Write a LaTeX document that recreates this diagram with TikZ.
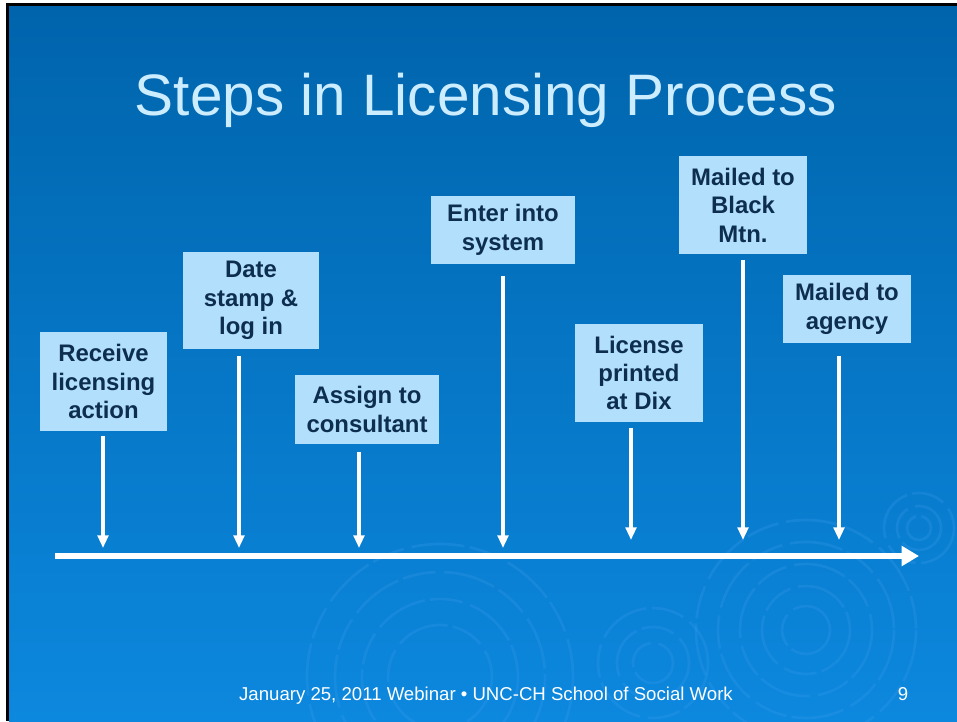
\documentclass[tikz,border=0pt]{standalone}
\usepackage{fontspec}
\setmainfont{Liberation Sans}
\usetikzlibrary{arrows.meta,calc}
\definecolor{bgtop}{RGB}{0,100,172}
\definecolor{bgbot}{RGB}{12,136,222}
\definecolor{boxfill}{RGB}{178,224,252}
\definecolor{boxtext}{RGB}{14,46,80}
\definecolor{titlecol}{RGB}{204,236,255}
\definecolor{ripplecol}{RGB}{70,160,240}
\def\upx{0.7524pt}
\begin{document}
\begin{tikzpicture}[x=0.7524pt,y=-0.7524pt,
  stepbox/.style={fill=boxfill, text=boxtext, font=\fontsize{18}{21.4}\selectfont\bfseries, align=center, inner sep=0pt},
  varrow/.style={draw=white, line width=2.3pt, -{Triangle[length=9.5pt,width=8pt]}},
  timeline/.style={draw=white, line width=4.5pt, -{Triangle[length=13pt,width=14.5pt]}},
  ring/.style={draw=ripplecol, opacity=0.22, line width=2pt, dash pattern=on 40pt off 4pt on 25pt off 6pt}]
\useasboundingbox (0,0) rectangle (957,721);
% frame and background
\fill[white] (0,0) rectangle (957,721);
\fill[black] (6,3) rectangle (957,721);
\shade[top color=bgtop, bottom color=bgbot] (9,7) rectangle (957,721);
% ripples
\begin{scope}
\clip (9,7) rectangle (957,721);
\foreach \r in {110,88,66,44,24} \draw[ring] (806,630) circle (\r);
\foreach \r in {55,36,20} \draw[ring] (653,663) circle (\r);
\foreach \r in {133,105,78,52} \draw[ring] (440,677) circle (\r);
\foreach \r in {35,22,12} \draw[ring] (919,528) circle (\r);
\end{scope}
% title
\node[anchor=base, text=titlecol, font=\fontsize{44}{50}\selectfont] (title) at (486,115) {Steps in Licensing Process};
% boxes
\node[stepbox, minimum width={127*\upx}, minimum height={99*\upx}] (b1) at (103.5,381.5) {Receive\\licensing\\action};
\node[stepbox, minimum width={136*\upx}, minimum height={97*\upx}] (b2) at (251,300.5) {Date\\stamp \&\\log in};
\node[stepbox, minimum width={144*\upx}, minimum height={69*\upx}] (b3) at (367,409.5) {Assign to\\consultant};
\node[stepbox, minimum width={144*\upx}, minimum height={68*\upx}] (b4) at (503,230) {Enter into\\system};
\node[stepbox, minimum width={128*\upx}, minimum height={98*\upx}] (b5) at (639,373) {License\\printed\\at Dix};
\node[stepbox, minimum width={128*\upx}, minimum height={98*\upx}] (b6) at (743,205) {Mailed to\\Black\\Mtn.};
\node[stepbox, minimum width={128*\upx}, minimum height={68*\upx}] (b7) at (847,309) {Mailed to\\agency};
% arrow end points on the timeline
\coordinate (t1) at (103,548);
\coordinate (t2) at (239,548);
\coordinate (t3) at (359,548);
\coordinate (t4) at (503,548);
\coordinate (t5) at (631,540);
\coordinate (t6) at (743,540);
\coordinate (t7) at (839,540);
\draw[varrow] ($(b1.south -| t1)+(0,5)$) -- (t1);
\draw[varrow] ($(b2.south -| t2)+(0,7)$) -- (t2);
\draw[varrow] ($(b3.south -| t3)+(0,8)$) -- (t3);
\draw[varrow] ($(b4.south -| t4)+(0,12)$) -- (t4);
\draw[varrow] ($(b5.south -| t5)+(0,6)$) -- (t5);
\draw[varrow] ($(b6.south -| t6)+(0,6)$) -- (t6);
\draw[varrow] ($(b7.south -| t7)+(0,13)$) -- (t7);
% timeline
\coordinate (L) at (55,556);
\coordinate (R) at (919,556);
\draw[timeline] (L) -- (R);
% footer
\node[anchor=base, text=white, font=\fontsize{14}{16}\selectfont] (footer) at (486,700) {January 25, 2011 Webinar • UNC-CH School of Social Work};
\node[anchor=base, text=white, font=\fontsize{14}{16}\selectfont] (page) at (903,700) {9};
\end{tikzpicture}
\end{document}
